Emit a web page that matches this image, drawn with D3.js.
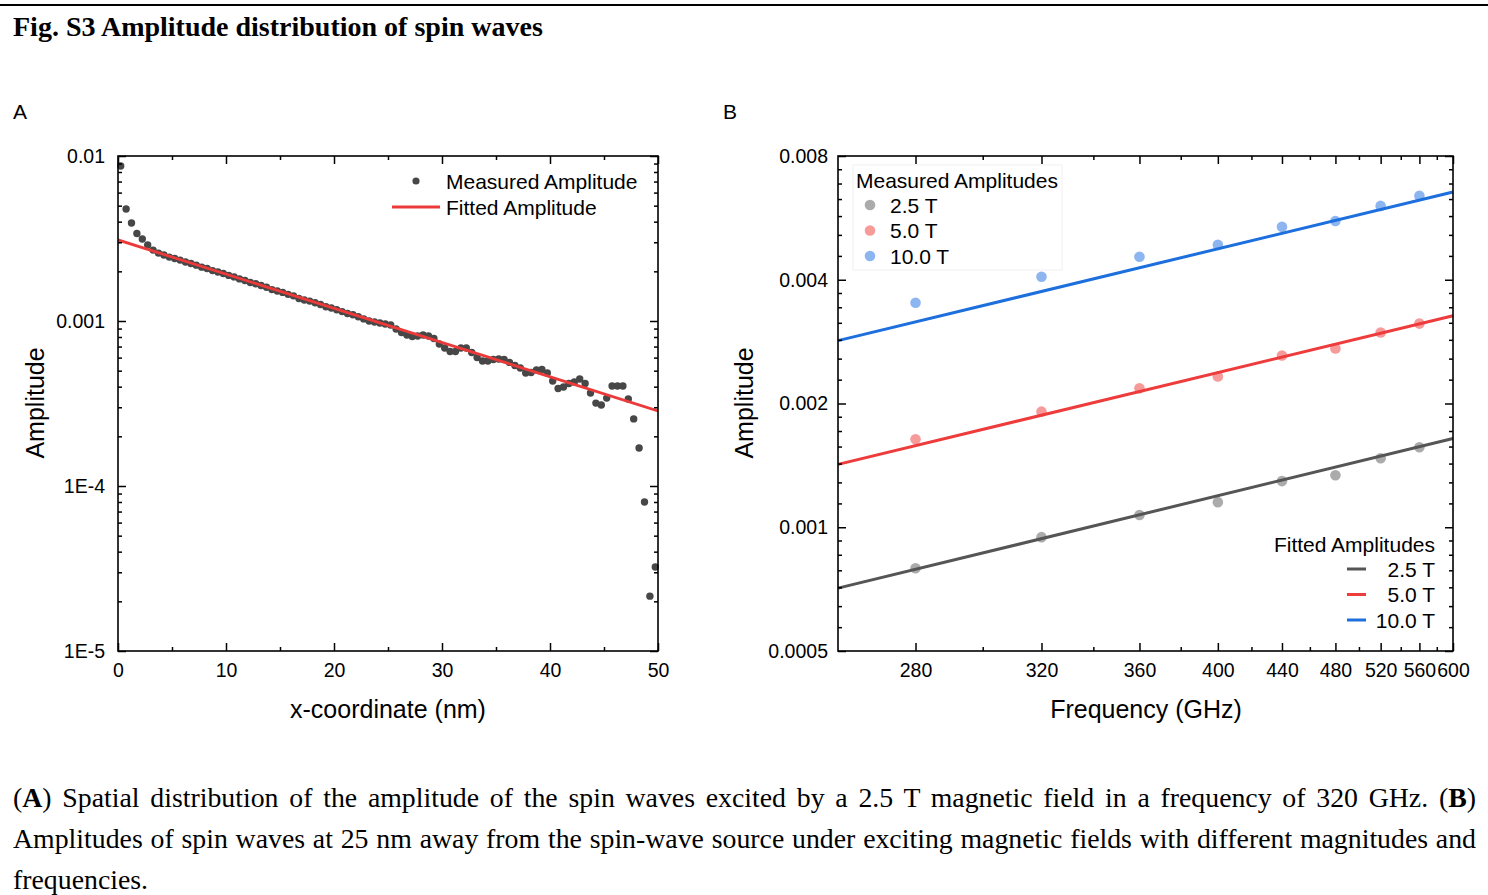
<!DOCTYPE html>
<html><head><meta charset="utf-8">
<script src="https://cdn.jsdelivr.net/npm/d3@7"></script>
<style>body{margin:0;background:#fff}svg{display:block}</style>
</head><body>
<svg id="fig" width="1488" height="895"></svg>
<script>
// ---------- Panel A data ----------
const xGridA = d3.range(100).map(i => 0.25 + 0.5 * i); // sample positions (nm)
const measuredA = [0.00870,0.00477,0.00393,0.00339,0.00314,0.00289,0.00269,0.00258,0.00251,0.00244,
0.00239,0.00234,0.00228,0.00223,0.00218,0.00212,0.00208,0.00202,0.00198,0.00194,
0.00189,0.00185,0.00180,0.00176,0.00171,0.00168,0.00164,0.00160,0.00155,0.00152,
0.00149,0.00145,0.00142,0.00137,0.00134,0.00132,0.00129,0.00126,0.00122,0.00120,
0.00117,0.00114,0.00111,0.00109,0.00106,0.00103,0.00100,0.000986,0.000973,0.000959,
0.000946,0.000894,0.000852,0.000823,0.000806,0.000811,0.000823,0.000811,0.000783,0.000725,
0.000686,0.000653,0.000653,0.000686,0.000686,0.000644,0.000601,0.000572,0.000572,0.000584,
0.000588,0.000584,0.000561,0.000537,0.000519,0.000484,0.000487,0.000505,0.000508,0.000484,
0.000433,0.000390,0.000398,0.000418,0.000427,0.000445,0.000418,0.000366,0.000318,0.000310,
0.000341,0.000404,0.000404,0.000404,0.000337,0.000255,0.000170,0.0000800,0.0000215,0.0000323];
const fitAx = [0, 50];
const fitAv = [0.00310, 0.000285];
const ticksAx = [0, 10, 20, 30, 40, 50];
const minorAx = [5, 15, 25, 35, 45];
const ticksAy = [1e-5, 1e-4, 1e-3, 1e-2];
const labelsAy = ["1E-5", "1E-4", "0.001", "0.01"];

// ---------- Panel B data ----------
const freqB = [280, 320, 360, 400, 440, 480, 520, 560];
const fieldsB = ["2.5 T", "5.0 T", "10.0 T"];
const meas25 = [0.000795,0.000946,0.001071,0.001151,0.001295,0.001338,0.001472,0.001565];
const meas50 = [0.001636,0.001911,0.002177,0.002326,0.002618,0.002722,0.002977,0.003129];
const meas100 = [0.003516,0.004068,0.00455,0.004865,0.00538,0.00556,0.00605,0.0064];
const fitFreqB = [260, 600];
const fit25 = [0.000711, 0.001644];
const fit50 = [0.001422, 0.00327];
const fit100 = [0.002844, 0.00654];
const ticksBx = [280, 320, 360, 400, 440, 480, 520, 560, 600];
const minorBx = [300, 340, 380, 420, 460, 500, 540, 580];
const ticksBy = [0.0005, 0.001, 0.002, 0.004, 0.008];
const labelsBy = ["0.0005", "0.001", "0.002", "0.004", "0.008"];

const SANS = "'Liberation Sans', Arial, sans-serif";
const SERIF = "'Liberation Serif', 'Times New Roman', serif";
const svg = d3.select("#fig");

// top rule & title
svg.append("line").attr("x1", 0).attr("x2", 1488).attr("y1", 5).attr("y2", 5)
  .attr("stroke", "#000").attr("stroke-width", 2);
svg.append("text").attr("x", 13).attr("y", 36).attr("font-family", SERIF)
  .attr("font-weight", "bold").attr("font-size", 28)
  .text("Fig. S3 Amplitude distribution of spin waves");
svg.append("text").attr("x", 13).attr("y", 119).attr("font-family", SANS).attr("font-size", 21).text("A");
svg.append("text").attr("x", 723).attr("y", 119).attr("font-family", SANS).attr("font-size", 21).text("B");

// reciprocal scale
function recipScale(domain, range) {
  const lin = d3.scaleLinear(domain.map(d => 1 / d), range);
  const s = f => lin(1 / f);
  s.domain = () => domain.slice();
  s.range = () => range.slice();
  s.copy = () => recipScale(domain, range);
  return s;
}

function drawFrame(g, xs, ys, xMaj, xMin, yMaj, yMin, xFmt, yFmt, fs, padX, padY) {
  const [x0, x1] = xs.range(), [y0, y1] = ys.range(); // y0 bottom, y1 top
  const style = sel => {
    sel.select(".domain").remove();
    sel.selectAll(".tick line").attr("stroke", "#000").attr("stroke-width", 1.5);
    sel.selectAll("text").attr("font-family", SANS).attr("font-size", fs).attr("fill", "#000");
  };
  g.append("g").attr("transform", `translate(0,${y0})`)
    .call(d3.axisBottom(xs).tickValues(xMaj).tickFormat(xFmt).tickSize(-8).tickPadding(padX)).call(style);
  g.append("g").attr("transform", `translate(0,${y0})`)
    .call(d3.axisBottom(xs).tickValues(xMin).tickFormat("").tickSize(-4)).call(style);
  g.append("g").attr("transform", `translate(0,${y1})`)
    .call(d3.axisTop(xs).tickValues(xMaj).tickFormat("").tickSize(-8)).call(style);
  g.append("g").attr("transform", `translate(0,${y1})`)
    .call(d3.axisTop(xs).tickValues(xMin).tickFormat("").tickSize(-4)).call(style);
  g.append("g").attr("transform", `translate(${x0},0)`)
    .call(d3.axisLeft(ys).tickValues(yMaj).tickFormat(yFmt).tickSize(-8).tickPadding(padY)).call(style);
  g.append("g").attr("transform", `translate(${x0},0)`)
    .call(d3.axisLeft(ys).tickValues(yMin).tickFormat("").tickSize(-4)).call(style);
  g.append("g").attr("transform", `translate(${x1},0)`)
    .call(d3.axisRight(ys).tickValues(yMaj).tickFormat("").tickSize(-8)).call(style);
  g.append("g").attr("transform", `translate(${x1},0)`)
    .call(d3.axisRight(ys).tickValues(yMin).tickFormat("").tickSize(-4)).call(style);
  g.append("rect").attr("x", x0).attr("y", y1).attr("width", x1 - x0).attr("height", y0 - y1)
    .attr("fill", "none").attr("stroke", "#000").attr("stroke-width", 1.6);
}

// ================= Panel A =================
const xA = d3.scaleLinear([0, 50], [118, 658]);
const yA = d3.scaleLog([1e-5, 0.01], [651, 156]);
const gA = svg.append("g");
const minorAy = [];
[1e-5, 1e-4, 1e-3].forEach(d => { for (let k = 2; k <= 9; k++) minorAy.push(k * d); });
gA.append("clipPath").attr("id", "clipA").append("rect")
  .attr("x", 118).attr("y", 156).attr("width", 540).attr("height", 495);
gA.append("g").selectAll("circle").data(measuredA).join("circle")
  .attr("cx", (d, i) => xA(xGridA[i])).attr("cy", d => yA(d)).attr("r", 3.7).attr("fill", "#474747");
gA.append("path").attr("clip-path", "url(#clipA)")
  .datum(fitAx.map((x, i) => [x, fitAv[i]]))
  .attr("d", d3.line().x(d => xA(d[0])).y(d => yA(d[1])))
  .attr("fill", "none").attr("stroke", "#ec3a3a").attr("stroke-width", 2.8);
drawFrame(gA, xA, yA, ticksAx, minorAx, ticksAy, minorAy,
  d => d, d => labelsAy[ticksAy.indexOf(d)], 19.5, 12, 13);
gA.append("text").attr("x", 388).attr("y", 718).attr("text-anchor", "middle")
  .attr("font-family", SANS).attr("font-size", 25).text("x-coordinate (nm)");
gA.append("text").attr("transform", "translate(44,403) rotate(-90)").attr("text-anchor", "middle")
  .attr("font-family", SANS).attr("font-size", 25).text("Amplitude");
// legend A
gA.append("circle").attr("cx", 416).attr("cy", 181).attr("r", 3.6).attr("fill", "#474747");
gA.append("text").attr("x", 446).attr("y", 188.5).attr("font-family", SANS).attr("font-size", 21).text("Measured Amplitude");
gA.append("line").attr("x1", 392).attr("x2", 440).attr("y1", 207).attr("y2", 207)
  .attr("stroke", "#ec3a3a").attr("stroke-width", 2.8);
gA.append("text").attr("x", 446).attr("y", 214.5).attr("font-family", SANS).attr("font-size", 21).text("Fitted Amplitude");

// ================= Panel B =================
const xB = recipScale([260, 600], [838, 1453]);
const yB = d3.scaleLog().base(2).domain([0.0005, 0.008]).range([651, 156]);
const gB = svg.append("g");
const minorBy = [];
[0.0005, 0.001, 0.002, 0.004].forEach(d => { for (let k = 1; k <= 6; k++) minorBy.push(d * (1 + k / 7)); });
const seriesB = [
  { name: fieldsB[0], meas: meas25, fit: fit25, pt: "#ababab", ln: "#555555" },
  { name: fieldsB[1], meas: meas50, fit: fit50, pt: "#f69a9a", ln: "#ee3b3b" },
  { name: fieldsB[2], meas: meas100, fit: fit100, pt: "#8db6f1", ln: "#1c6fdd" }
];
seriesB.forEach(s => {
  gB.append("g").selectAll("circle").data(s.meas).join("circle")
    .attr("cx", (d, i) => xB(freqB[i])).attr("cy", d => yB(d)).attr("r", 5.3).attr("fill", s.pt);
});
seriesB.forEach(s => {
  gB.append("path").datum(fitFreqB.map((f, i) => [f, s.fit[i]]))
    .attr("d", d3.line().x(d => xB(d[0])).y(d => yB(d[1])))
    .attr("fill", "none").attr("stroke", s.ln).attr("stroke-width", 3);
});
drawFrame(gB, xB, yB, ticksBx, minorBx, ticksBy, minorBy,
  d => d, d => labelsBy[ticksBy.indexOf(d)], 19.5, 12, 10);
gB.append("text").attr("x", 1146).attr("y", 718).attr("text-anchor", "middle")
  .attr("font-family", SANS).attr("font-size", 25).text("Frequency (GHz)");
gB.append("text").attr("transform", "translate(753,403) rotate(-90)").attr("text-anchor", "middle")
  .attr("font-family", SANS).attr("font-size", 25).text("Amplitude");
// legend B (measured)
gB.append("rect").attr("x", 853).attr("y", 165).attr("width", 209).attr("height", 105)
  .attr("fill", "#fff").attr("stroke", "#f0f0f0");
gB.append("text").attr("x", 856).attr("y", 187.5).attr("font-family", SANS).attr("font-size", 21).text("Measured Amplitudes");
seriesB.forEach((s, i) => {
  const y = 205 + i * 25.5;
  gB.append("circle").attr("cx", 870).attr("cy", y).attr("r", 5.3).attr("fill", s.pt);
  gB.append("text").attr("x", 890).attr("y", y + 7.5).attr("font-family", SANS).attr("font-size", 21).text(s.name);
});
// legend B (fitted)
gB.append("text").attr("x", 1435).attr("y", 551.5).attr("text-anchor", "end")
  .attr("font-family", SANS).attr("font-size", 21).text("Fitted Amplitudes");
seriesB.forEach((s, i) => {
  const y = 569 + i * 25.5;
  gB.append("line").attr("x1", 1347).attr("x2", 1366).attr("y1", y).attr("y2", y)
    .attr("stroke", s.ln).attr("stroke-width", 3);
  gB.append("text").attr("x", 1435).attr("y", y + 7.5).attr("text-anchor", "end")
    .attr("font-family", SANS).attr("font-size", 21).text(s.name);
});

// ================= Caption =================
const cap = svg.append("g").attr("font-family", SERIF).attr("font-size", 27.8);
function justify(t, width) {
  const len = t.node().getComputedTextLength();
  const txt = t.text();
  const n = (txt.match(/ /g) || []).length;
  if (n > 0) t.attr("word-spacing", (width - len) / n);
}
const l1 = cap.append("text").attr("x", 13).attr("y", 807);
l1.append("tspan").text("(");
l1.append("tspan").attr("font-weight", "bold").text("A");
l1.append("tspan").text(") Spatial distribution of the amplitude of the spin waves excited by a 2.5 T magnetic field in a frequency of 320 GHz. (");
l1.append("tspan").attr("font-weight", "bold").text("B");
l1.append("tspan").text(")");
const l2 = cap.append("text").attr("x", 13).attr("y", 848)
  .text("Amplitudes of spin waves at 25 nm away from the spin-wave source under exciting magnetic fields with different magnitudes and");
cap.append("text").attr("x", 13).attr("y", 889).text("frequencies.");
justify(l1, 1463);
justify(l2, 1463);
</script>
</body></html>
